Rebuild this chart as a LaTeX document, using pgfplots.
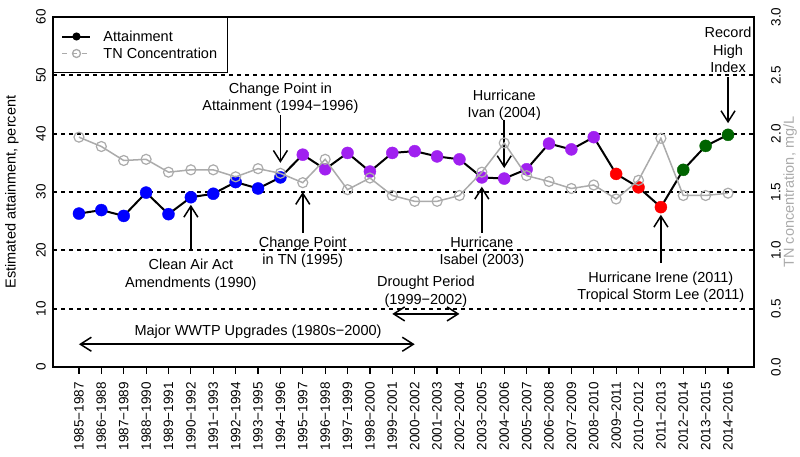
\documentclass[border=0pt]{standalone}
\usepackage{fontspec}
\setmainfont{Liberation Sans}
\usepackage{pgfplots}
\usepackage{pgfplotstable}
\pgfplotsset{compat=1.18}
\usetikzlibrary{arrows.meta}

\definecolor{rpurple}{HTML}{A020F0}
\definecolor{rgreen}{HTML}{006400}
\definecolor{tngray}{HTML}{ABABAB}

% i = period index, att = attainment (%), cls = colour class, tn = TN (mg/L)
\pgfplotstableread{
i att cls tn
0 26.3 b 1.97
1 26.9 b 1.89
2 25.9 b 1.77
3 29.9 b 1.78
4 26.2 b 1.67
5 29.1 b 1.69
6 29.7 b 1.69
7 31.7 b 1.63
8 30.6 b 1.70
9 32.5 b 1.66
10 36.4 p 1.58
11 33.9 p 1.78
12 36.7 p 1.52
13 33.5 p 1.62
14 36.7 p 1.47
15 37.0 p 1.42
16 36.1 p 1.42
17 35.6 p 1.47
18 32.5 p 1.67
19 32.3 p 1.92
20 33.9 p 1.64
21 38.3 p 1.59
22 37.3 p 1.53
23 39.4 p 1.56
24 33.1 r 1.44
25 30.8 r 1.60
26 27.4 r 1.96
27 33.8 g 1.47
28 37.9 g 1.47
29 39.8 g 1.49
}\wqdata

\begin{document}
\begin{tikzpicture}[font=\fontsize{14.5}{17.5}\selectfont,
  arr/.style={line width=1.5pt, -{Straight Barb[length=11pt,width=14pt]}},
  darr/.style={line width=1.5pt, {Straight Barb[length=11pt,width=14pt]}-{Straight Barb[length=11pt,width=14pt]}},
  lbl/.style={align=center},
  hline/.style={black, line width=1.8pt, dash pattern=on 4pt off 4pt}]
\pgfplotsset{
  common/.style={at={(0pt,0pt)}, anchor=south west, scale only axis,
    width=701pt, height=350pt, xmin=-1.16, xmax=30.16, clip=false,
    axis line style={line width=1.5pt},
    /pgf/number format/assume math mode=true,
    tick label style={font=\fontsize{13.5}{16}\selectfont},
    label style={font=\fontsize{14.5}{17.5}\selectfont},
    ytick style={draw=none}},
}

\begin{axis}[common,
  ymin=0, ymax=60, ytick={0,10,...,60},
  ytick pos=left,
  yticklabel style={rotate=90, anchor=south, inner sep=0pt},
  xtick={0,...,29}, xtick pos=bottom,
  tick align=outside, major tick length=7pt,
  xtick style={line width=1.2pt, black},
  xticklabels={1985−1987,1986−1988,1987−1989,1988−1990,1989−1991,1990−1992,
    1991−1993,1992−1994,1993−1995,1994−1996,1995−1997,1996−1998,1997−1999,
    1998−2000,1999−2001,2000−2002,2001−2003,2002−2004,2003−2005,2004−2006,
    2005−2007,2006−2008,2007−2009,2008−2010,2009−2011,2010−2012,2011−2013,
    2012−2014,2013−2015,2014−2016},
  xticklabel style={rotate=90, anchor=east, inner sep=8pt},
  ylabel={Estimated attainment, percent},
  every axis y label/.style={at={(axis description cs:-0.0585,0.5)}, rotate=90, anchor=center},
  legend style={at={(0,1)}, anchor=north west, draw=black, line width=1pt,
    font=\fontsize{14.5}{17.5}\selectfont, row sep=1pt, inner xsep=8pt, inner ysep=11pt,
    cells={anchor=west}},
  legend image code/.code={\draw[mark repeat=2, mark phase=2, #1] plot coordinates {(0pt,0pt) (14pt,0pt) (28pt,0pt)}; \path (38pt,0pt);},
]
\addlegendimage{black, line width=2pt, mark=*, mark size=3pt}
\addlegendentry{Attainment}
\addlegendimage{tngray, line width=1.3pt, dash pattern=on 5pt off 5pt, mark=o, mark size=4pt, mark options={solid}}
\addlegendentry{TN Concentration}

% horizontal reference lines
\draw[hline] (axis cs:-1.16,10) -- (axis cs:30.16,10);
\draw[hline] (axis cs:-1.16,20) -- (axis cs:30.16,20);
\draw[hline] (axis cs:-1.16,30) -- (axis cs:30.16,30);
\draw[hline] (axis cs:-1.16,40) -- (axis cs:30.16,40);
\draw[hline] (axis cs:-1.16,50) -- (axis cs:30.16,50);

\addplot[black, line width=2pt, no marks, forget plot] table[x=i, y=att] {\wqdata};
\addplot[scatter, only marks, forget plot, scatter src=explicit symbolic,
  scatter/classes={
    b={mark=*, mark size=6pt, blue},
    p={mark=*, mark size=6pt, rpurple},
    r={mark=*, mark size=6pt, red},
    g={mark=*, mark size=6pt, rgreen}}]
  table[x=i, y=att, meta=cls] {\wqdata};

% annotations
\node[lbl] at (axis cs:9,46.1) {Change Point in\\Attainment (1994−1996)};
\draw[arr] (axis cs:9,43.2) -- (axis cs:9,35.0);
\node[lbl] at (axis cs:10,19.7) {Change Point\\in TN (1995)};
\draw[arr] (axis cs:10,23.0) -- (axis cs:10,30.0);
\node[lbl] at (axis cs:5,15.8) {Clean Air Act\\Amendments (1990)};
\draw[arr] (axis cs:5,20.0) -- (axis cs:5,27.8);
\node[lbl] at (axis cs:8,6.0) {Major WWTP Upgrades (1980s−2000)};
\draw[darr] (axis cs:0,3.9) -- (axis cs:15,3.9);
\node[lbl] at (axis cs:15.5,12.9) {Drought Period\\(1999−2002)};
\draw[darr] (axis cs:14,9.1) -- (axis cs:17,9.1);
\node[lbl] at (axis cs:19,44.9) {Hurricane\\Ivan (2004)};
\draw[arr] (axis cs:19,42.3) -- (axis cs:19,34.1);
\node[lbl] at (axis cs:18,19.7) {Hurricane\\Isabel (2003)};
\draw[arr] (axis cs:18,23.0) -- (axis cs:18,30.9);
\node[lbl] at (axis cs:26,13.7) {Hurricane Irene (2011)\\Tropical Storm Lee (2011)};
\draw[arr] (axis cs:26,17.8) -- (axis cs:26,26.1);
\node[lbl] at (axis cs:29,54.3) {Record\\High\\Index};
\draw[arr] (axis cs:29,49.7) -- (axis cs:29,41.8);
\end{axis}

\begin{axis}[common,
  ymin=0, ymax=3,
  hide x axis, xtick=\empty, axis y line*=right,
  ytick={0,0.5,...,3}, yticklabels={0.0,0.5,1.0,1.5,2.0,2.5,3.0},
  yticklabel style={rotate=90, anchor=north, inner sep=17pt},
  ylabel={TN concentration, mg/L},
  every axis y label/.style={at={(axis description cs:1.0514,0.5)}, rotate=90, anchor=center, text=tngray},
]
\addplot[tngray, line width=1.5pt, mark=o, mark size=5pt, mark options={line width=1.2pt}] table[x=i, y=tn] {\wqdata};
\end{axis}

\pgfresetboundingbox
\path (-53pt,-90pt) rectangle (747pt,367pt);
\end{tikzpicture}
\end{document}
